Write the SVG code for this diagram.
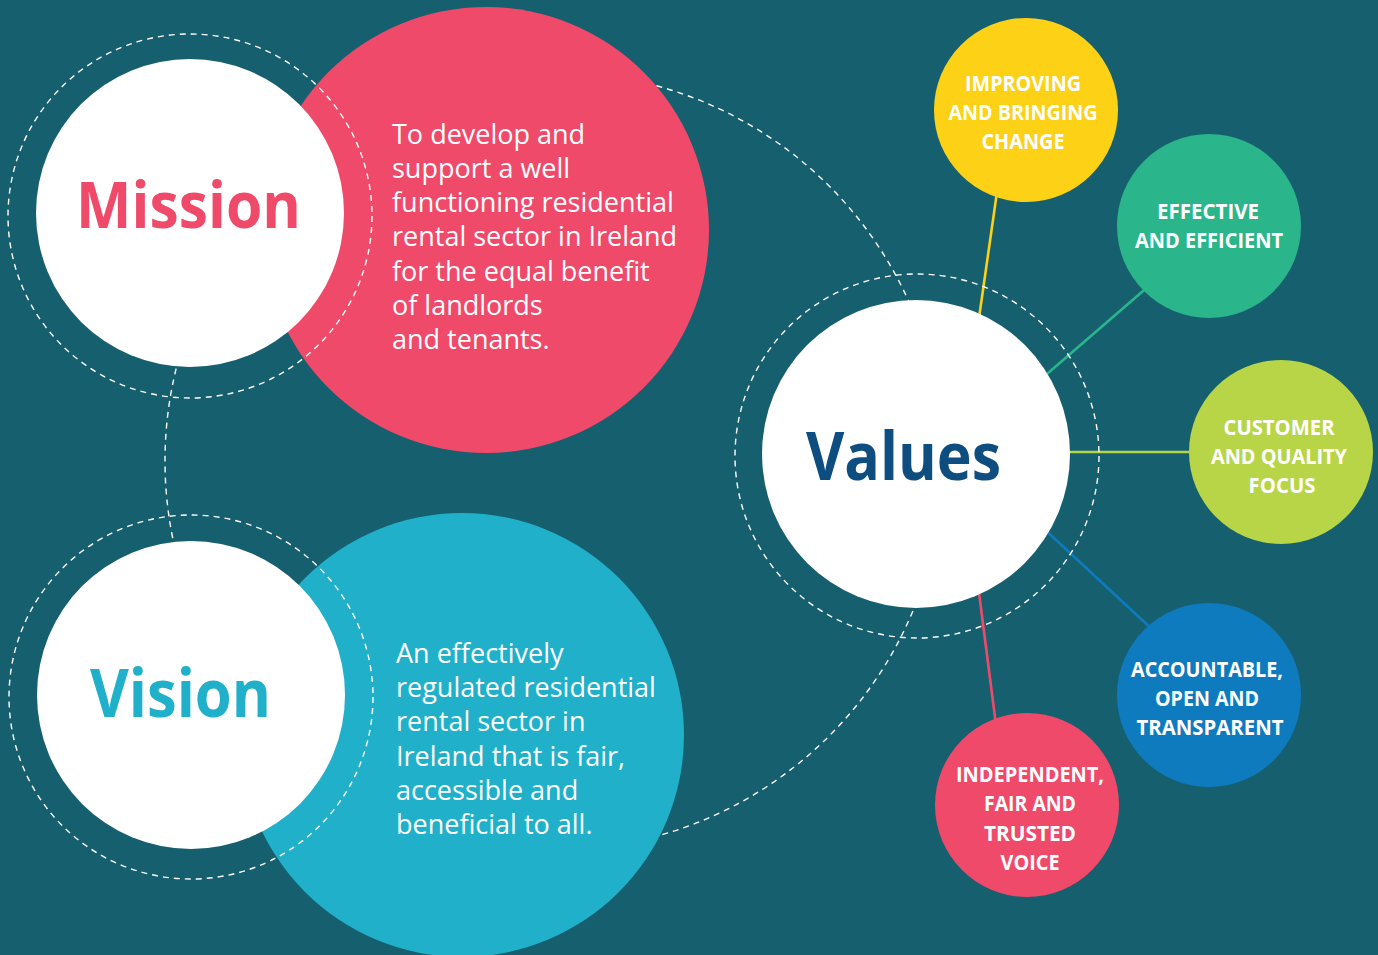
<svg xmlns="http://www.w3.org/2000/svg" width="1378" height="955" viewBox="0 0 1378 955">
<style>
.ring{fill:none;stroke:#ffffff;stroke-width:1.4;stroke-dasharray:6 5}
.white{fill:#ffffff}
.title{font-family:"Open Sans","Liberation Sans",sans-serif;font-weight:700;text-anchor:middle}
.body{font-family:"Open Sans","Liberation Sans",sans-serif;font-size:27px;fill:#ffffff}
.lab{font-family:"Open Sans","Liberation Sans",sans-serif;font-size:21px;font-weight:700;fill:#ffffff;text-anchor:middle}
.spoke{stroke-width:2.6;fill:none}
</style>
<rect x="0" y="0" width="1378" height="955" fill="#165F6F"/>
<g id="connectors">
<circle class="ring" cx="554" cy="461" r="389"/>
<line class="spoke" x1="998" y1="185" x2="978" y2="325" stroke="#FDD116"/>
<line class="spoke" x1="1150" y1="285" x2="1040" y2="380" stroke="#2BB58A"/>
<line class="spoke" x1="1060" y1="452" x2="1195" y2="452" stroke="#B8D548"/>
<line class="spoke" x1="1040" y1="525" x2="1155" y2="632" stroke="#0F7BBF"/>
<line class="spoke" x1="978" y1="585" x2="996" y2="725" stroke="#EF4A6A"/>
</g>
<g id="mission">
<circle cx="486" cy="230" r="223" fill="#EF4A6A"/>
<circle class="ring" cx="190" cy="216" r="182"/>
<circle class="white" cx="190" cy="213" r="154"/>
<text class="title" x="188.5" y="228" font-size="64" fill="#EF4A6A" textLength="225" lengthAdjust="spacingAndGlyphs">Mission</text>
<text class="body"><tspan x="392" y="144">To develop and</tspan><tspan x="392" y="178">support a well</tspan><tspan x="392" y="212">functioning residential</tspan><tspan x="392" y="246">rental sector in Ireland</tspan><tspan x="392" y="281">for the equal benefit</tspan><tspan x="392" y="315">of landlords</tspan><tspan x="392" y="349">and tenants.</tspan></text>
</g>
<g id="vision">
<circle cx="462" cy="735" r="222" fill="#20B0CA"/>
<circle class="ring" cx="191" cy="697" r="182"/>
<circle class="white" cx="191" cy="695" r="154"/>
<text class="title" x="180.5" y="717" font-size="66" fill="#20B0CA" textLength="181" lengthAdjust="spacingAndGlyphs">Vision</text>
<text class="body"><tspan x="396" y="663">An effectively</tspan><tspan x="396" y="697">regulated residential</tspan><tspan x="396" y="731">rental sector in</tspan><tspan x="396" y="766">Ireland that is fair,</tspan><tspan x="396" y="800">accessible and</tspan><tspan x="396" y="834">beneficial to all.</tspan></text>
</g>
<g id="values">
<circle class="ring" cx="917" cy="456" r="182"/>
<circle class="white" cx="916" cy="454" r="154"/>
<text class="title" x="903.5" y="480" font-size="66" fill="#0E4D80" textLength="195" lengthAdjust="spacingAndGlyphs">Values</text>
</g>
<g id="value-improving">
<circle cx="1026" cy="110" r="92" fill="#FDD116"/>
<text class="lab" x="1023" y="91" textLength="116" lengthAdjust="spacingAndGlyphs">IMPROVING</text>
<text class="lab" x="1023" y="120" textLength="149" lengthAdjust="spacingAndGlyphs">AND BRINGING</text>
<text class="lab" x="1023" y="149" textLength="83" lengthAdjust="spacingAndGlyphs">CHANGE</text>
</g>
<g id="value-effective">
<circle cx="1209" cy="226" r="92" fill="#2BB58A"/>
<text class="lab" x="1208" y="219" textLength="102" lengthAdjust="spacingAndGlyphs">EFFECTIVE</text>
<text class="lab" x="1209" y="248" textLength="148" lengthAdjust="spacingAndGlyphs">AND EFFICIENT</text>
</g>
<g id="value-customer">
<circle cx="1281" cy="452" r="92" fill="#B8D548"/>
<text class="lab" x="1279" y="435" textLength="111" lengthAdjust="spacingAndGlyphs">CUSTOMER</text>
<text class="lab" x="1279" y="464" textLength="136" lengthAdjust="spacingAndGlyphs">AND QUALITY</text>
<text class="lab" x="1282" y="493" textLength="67" lengthAdjust="spacingAndGlyphs">FOCUS</text>
</g>
<g id="value-accountable">
<circle cx="1209" cy="695" r="92" fill="#0F7BBF"/>
<text class="lab" x="1207" y="677" textLength="152" lengthAdjust="spacingAndGlyphs">ACCOUNTABLE,</text>
<text class="lab" x="1207" y="706" textLength="104" lengthAdjust="spacingAndGlyphs">OPEN AND</text>
<text class="lab" x="1210" y="735" textLength="147" lengthAdjust="spacingAndGlyphs">TRANSPARENT</text>
</g>
<g id="value-independent">
<circle cx="1027" cy="805" r="92" fill="#EF4A6A"/>
<text class="lab" x="1030" y="782" textLength="148" lengthAdjust="spacingAndGlyphs">INDEPENDENT,</text>
<text class="lab" x="1030" y="811" textLength="92" lengthAdjust="spacingAndGlyphs">FAIR AND</text>
<text class="lab" x="1030" y="841" textLength="92" lengthAdjust="spacingAndGlyphs">TRUSTED</text>
<text class="lab" x="1030" y="870" textLength="59" lengthAdjust="spacingAndGlyphs">VOICE</text>
</g>
</svg>
